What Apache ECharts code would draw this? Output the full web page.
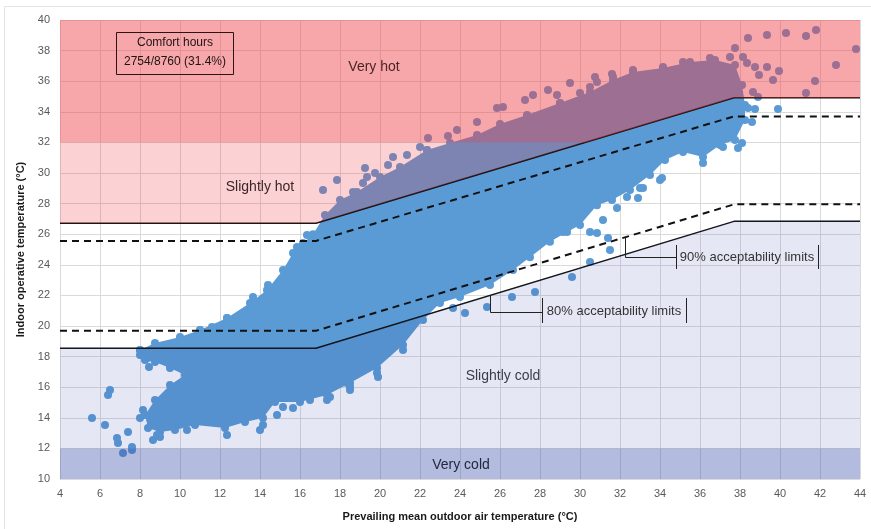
<!DOCTYPE html>
<html>
<head>
<meta charset="utf-8">
<title>Comfort hours</title>
<script src="https://cdn.jsdelivr.net/npm/echarts@6/dist/echarts.min.js"></script>
<style>
    html, body { margin: 0; padding: 0; background: #fff; }
    #chart { width: 871px; height: 529px; }
</style>
</head>
<body>
<div id="chart"></div>
<script>
'use strict';
// acceptability limits (break points of the adaptive model)
var limitX = [4, 16.8, 37.7, 44];
var upper80 = [26.71, 26.71, 34.92, 34.92];
var upper90 = [25.56, 25.56, 33.70, 33.70];
var lower90 = [19.69, 19.69, 27.95, 27.95];
var lower80 = [18.54, 18.54, 26.84, 26.84];
var hotLimit = 32;
var coldLimit = 12;

// outline of the dense cloud of hourly values
var cloudOutline = [
    [8.0, 18.43], [8.75, 18.89], [10.0, 19.28], [11.0, 19.74], [12.35, 20.52], [13.5, 21.5],
    [14.35, 22.35], [15.15, 23.66], [15.65, 24.77], [16.15, 25.42], [16.65, 26.0], [17.25, 27.25],
    [18.0, 28.24], [18.85, 28.76], [20.0, 29.74], [21.0, 30.39], [22.35, 31.5], [23.5, 31.96],
    [24.85, 32.48], [26.0, 33.2], [27.35, 33.79], [29.0, 34.58], [30.5, 35.3], [31.65, 36.08],
    [32.65, 36.6], [34.15, 36.86], [35.5, 37.25], [36.75, 37.39], [37.75, 37.06], [38.1, 35.75],
    [38.25, 34.44], [38.25, 33.46], [37.75, 32.16], [37.0, 31.83], [36.15, 31.05], [35.15, 31.37],
    [34.25, 30.85], [33.5, 29.87], [32.5, 28.89], [31.6, 28.24], [30.85, 27.9], [30.0, 26.6],
    [29.35, 26.14], [28.5, 25.5], [27.5, 24.5], [26.65, 23.66], [25.5, 22.68], [24.0, 21.9],
    [23.0, 21.5], [22.15, 20.39], [21.15, 18.76], [19.85, 17.25], [18.5, 16.27], [17.35, 15.49],
    [16.0, 15.03], [14.75, 15.03], [14.15, 13.99], [13.25, 13.73], [12.25, 13.33], [10.75, 13.53],
    [9.75, 13.2], [9.0, 13.07], [8.4, 13.33], [8.25, 14.18], [8.75, 15.16], [9.5, 16.14],
    [10.25, 16.8], [9.5, 17.25], [8.75, 17.65], [8.25, 17.78], [8.0, 18.1]
];

// single hours lying outside or on the rim of the dense cloud
var strayHours = [
    [17.15, 28.89], [17.85, 29.54], [18.65, 28.76], [19.15, 29.35], [19.35, 29.74], [19.25, 30.33],
    [19.75, 30.0], [20.4, 30.52], [20.65, 31.05], [21.35, 31.18], [22.0, 31.7], [22.4, 32.29],
    [23.4, 32.42], [23.85, 32.81], [24.85, 33.33], [25.85, 34.25], [26.15, 34.31], [27.25, 34.77],
    [27.65, 35.1], [28.4, 35.42], [28.85, 35.1], [29.5, 35.88], [30.0, 35.23], [30.5, 35.62],
    [30.75, 36.27], [30.85, 35.95], [31.6, 36.47],
    [31.65, 36.27], [32.65, 36.73], [34.15, 36.93], [35.15, 37.25], [36.5, 37.52], [37.5, 37.58],
    [22.35, 31.5], [24.85, 32.35], [27.35, 33.66], [29.0, 34.58], [31.5, 35.62],
    [37.75, 38.17], [38.4, 38.82], [39.35, 39.02], [40.3, 39.15], [41.3, 38.95], [41.8, 39.35],
    [43.8, 38.1], [42.8, 37.06], [41.75, 36.01], [41.3, 35.23], [39.95, 36.67], [39.65, 36.08],
    [39.35, 36.93], [38.95, 36.41], [38.75, 36.93], [38.35, 37.19], [38.15, 37.58], [38.9, 34.97],
    [38.65, 35.29],
    [38.4, 34.25], [38.75, 34.18], [39.9, 34.18], [38.6, 33.33], [38.1, 31.96], [37.9, 31.63],
    [37.15, 31.7], [36.15, 30.65], [34.1, 29.67], [33.15, 29.02], [32.35, 28.43], [34.0, 29.54],
    [33.0, 29.02], [32.9, 28.37], [31.85, 27.71], [31.15, 26.93], [30.85, 26.08], [31.5, 24.97],
    [30.5, 24.18], [29.6, 23.2], [27.75, 22.22], [26.6, 21.9], [25.35, 21.24], [24.25, 20.85],
    [23.65, 21.18], [31.4, 25.75], [30.5, 26.14], [29.15, 26.14],
    [21.15, 18.43], [19.85, 16.93], [19.9, 16.67], [18.5, 16.01], [18.35, 16.27], [18.5, 15.82],
    [17.5, 15.36], [17.35, 15.16], [16.5, 15.16], [15.65, 14.64], [15.15, 14.71], [14.85, 14.18],
    [14.15, 13.53], [14.0, 13.2], [12.35, 12.88], [10.35, 13.2], [9.0, 12.75],
    [5.6, 13.99], [6.25, 13.53], [6.4, 15.49], [6.5, 15.82], [6.85, 12.68], [6.9, 12.35],
    [7.15, 11.7], [7.4, 13.07], [7.6, 12.09], [7.6, 11.9], [8.0, 13.99], [8.15, 14.51],
    [8.4, 17.91], [8.45, 17.32], [8.65, 12.55], [8.85, 12.88],
    [8.0, 18.43], [8.25, 17.91], [9.0, 17.97], [11.0, 19.74], [11.6, 19.93], [12.35, 20.52],
    [13.65, 21.9], [14.4, 22.68], [15.85, 25.16], [16.35, 25.95], [18.5, 28.04]
];

var colors = {
    hours: '#5b9bd5',
    veryHot: 'rgba(238, 58, 64, 0.45)',
    slightlyHot: 'rgba(238, 58, 64, 0.23)',
    slightlyCold: 'rgba(60, 80, 170, 0.135)',
    veryCold: 'rgba(60, 80, 170, 0.39)'
};
var font = '"Liberation Sans", Arial, sans-serif';

// where a limit line reaches a given temperature
var crossAt = function (xs, ys, level) {
    for (var i = 0; i < xs.length - 1; i++) {
        if (ys[i] !== ys[i + 1] && (ys[i] - level) * (ys[i + 1] - level) <= 0) {
            return xs[i] + (level - ys[i]) / (ys[i + 1] - ys[i]) * (xs[i + 1] - xs[i]);
        }
    }
    return xs[xs.length - 1];
};
var hotCross = crossAt(limitX, upper80, hotLimit);

var zones = [
    { color: colors.veryHot, points: [[4, 40], [44, 40], [44, upper80[3]], [limitX[2], upper80[2]], [hotCross, hotLimit], [4, hotLimit]] },
    { color: colors.slightlyHot, points: [[4, hotLimit], [hotCross, hotLimit], [limitX[1], upper80[1]], [4, upper80[0]]] },
    { color: colors.slightlyCold, points: [[4, lower80[0]], [limitX[1], lower80[1]], [limitX[2], lower80[2]], [44, lower80[3]], [44, coldLimit], [4, coldLimit]] },
    { color: colors.veryCold, points: [[4, coldLimit], [44, coldLimit], [44, 10], [4, 10]] }
];

var polygonSeries = function (points, color, z) {
    return {
        type: 'custom',
        coordinateSystem: 'cartesian2d',
        silent: true,
        z: z,
        data: [points[0]],
        renderItem: function (params, api) {
            return {
                type: 'polygon',
                shape: { points: points.map(function (p) { return api.coord(p); }) },
                style: { fill: color }
            };
        }
    };
};

var limitSeries = function (ys, dashed) {
    return {
        type: 'line',
        silent: true,
        z: 4,
        symbol: 'none',
        data: limitX.map(function (x, i) { return [x, ys[i]]; }),
        lineStyle: dashed ? { color: '#111', width: 2, type: [7, 5] } : { color: '#111', width: 1.5 }
    };
};

var hourDots = function (data) {
    return {
        type: 'scatter',
        silent: true,
        z: 3,
        symbolSize: 8,
        itemStyle: { color: colors.hours, opacity: 1 },
        data: data
    };
};

var series = [polygonSeries(cloudOutline, colors.hours, 2), hourDots(cloudOutline), hourDots(strayHours)];
series.push(limitSeries(upper80, false), limitSeries(upper90, true),
    limitSeries(lower90, true), limitSeries(lower80, false));
zones.forEach(function (zone) {
    series.push(polygonSeries(zone.points, zone.color, 5));
});

var text = function (x, y, str, size, color, align) {
    return {
        type: 'text', z: 10, silent: true,
        style: { x: x, y: y, text: str, fill: color, font: size + 'px ' + font,
            textAlign: align || 'center', textVerticalAlign: 'middle' }
    };
};
var line = function (pts, color) {
    return {
        type: 'polyline', z: 10, silent: true,
        shape: { points: pts },
        style: { stroke: color || '#222', lineWidth: 1, fill: null }
    };
};

var graphic = [
    { type: 'rect', z: 0, silent: true, shape: { x: 4.5, y: 6.5, width: 900, height: 600 },
        style: { fill: null, stroke: '#e2e2e2', lineWidth: 1 } },
    { type: 'rect', z: 10, silent: true, shape: { x: 116.5, y: 32.5, width: 117, height: 42 },
        style: { fill: null, stroke: '#2a1515', lineWidth: 1 } },
    text(175, 43, 'Comfort hours', 12, '#1e1414'),
    text(175, 62, '2754/8760 (31.4%)', 12, '#1e1414'),
    text(374, 67, 'Very hot', 14, '#4a2628'),
    text(260, 187, 'Slightly hot', 14, '#3a2628'),
    text(503, 376, 'Slightly cold', 14, '#3a3d48'),
    text(461, 465, 'Very cold', 14, '#22283f'),
    // callouts
    line([[625.5, 238], [625.5, 257.5], [676, 257.5]]),
    line([[676.5, 245], [676.5, 269]]),
    line([[818.5, 245], [818.5, 269]]),
    text(747, 257, '90% acceptability limits', 13, '#333'),
    line([[490.5, 295], [490.5, 312.5], [542, 312.5]]),
    line([[542.5, 298], [542.5, 323]]),
    line([[686.5, 298], [686.5, 323]]),
    text(614, 311, '80% acceptability limits', 13, '#333')
];

var axisCommon = {
    type: 'value',
    nameLocation: 'middle',
    nameTextStyle: { color: '#1a1a1a', fontSize: 11, fontWeight: 'bold', fontFamily: font },
    axisLine: { show: false },
    axisTick: { show: false },
    splitLine: { show: true, lineStyle: { color: '#dadada', width: 1 } },
    axisLabel: { color: '#595959', fontSize: 11, fontFamily: font }
};

var chart = echarts.init(document.getElementById('chart'), null, { renderer: 'canvas' });
chart.setOption({
    animation: false,
    backgroundColor: '#fff',
    grid: { left: 60, right: 11, top: 20, bottom: 50 },
    xAxis: Object.assign({}, axisCommon, {
        min: 4, max: 44, interval: 2,
        name: 'Prevailing mean outdoor air temperature (°C)',
        nameGap: 32,
        axisLabel: Object.assign({}, axisCommon.axisLabel, { margin: 9 })
    }),
    yAxis: Object.assign({}, axisCommon, {
        min: 10, max: 40, interval: 2,
        name: 'Indoor operative temperature (°C)',
        nameGap: 34,
        axisLabel: Object.assign({}, axisCommon.axisLabel, { margin: 10 })
    }),
    series: series,
    graphic: graphic
});
</script>
</body>
</html>
